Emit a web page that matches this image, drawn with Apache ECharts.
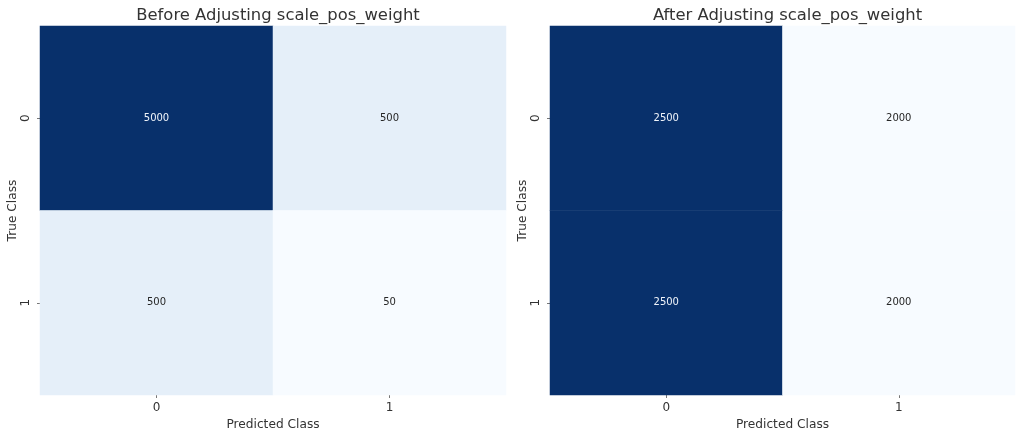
<!DOCTYPE html>
<html><head><meta charset="utf-8">
<script src="https://cdn.jsdelivr.net/npm/echarts@6/dist/echarts.min.js"></script>
<style>html,body{margin:0;padding:0;background:#fff}#c{width:1024px;height:435px}</style>
</head><body><div id="c"></div>
<script>
const predictedClasses = ['0', '1'];
const trueClasses = ['0', '1'];
const titles = ['Before Adjusting scale_pos_weight', 'After Adjusting scale_pos_weight'];
// rows = true class, cols = predicted class
const beforeMatrix = [[5000, 500], [500, 50]];
const afterMatrix = [[2500, 2000], [2500, 2000]];

const matrices = [beforeMatrix, afterMatrix];
const grids = [
  {left: 40, top: 26, width: 466, height: 369, outerBoundsMode: 'none', containLabel: false},
  {left: 550, top: 26, width: 465, height: 369, outerBoundsMode: 'none', containLabel: false}
];
const blues = ['#f7fbff','#deebf7','#c6dbef','#9ecae1','#6baed6','#4292c6','#2171b5','#08519c','#08306b'];
const font = 'DejaVu Sans';

const option = {
  animation: false,
  backgroundColor: '#fff',
  textStyle: {fontFamily: font},
  title: titles.map((t, i) => ({
    text: t, left: grids[i].left + grids[i].width / 2, top: 3, textAlign: 'center',
    textStyle: {fontFamily: font, fontSize: 16.4, fontWeight: 'normal', color: '#333'}
  })),
  grid: grids,
  xAxis: grids.map((g, i) => ({
    type: 'category', gridIndex: i, data: predictedClasses,
    name: 'Predicted Class', nameLocation: 'middle', nameGap: 21,
    nameTextStyle: {fontSize: 12.2, color: '#333', fontFamily: font},
    axisLine: {show: false}, splitLine: {show: false},
    axisTick: {show: true, alignWithLabel: true, length: 3, lineStyle: {color: '#777'}},
    axisLabel: {fontSize: 12, color: '#333', margin: 7, fontFamily: font}
  })),
  yAxis: grids.map((g, i) => ({
    type: 'category', gridIndex: i, data: trueClasses, inverse: true,
    name: 'True Class', nameLocation: 'middle', nameGap: 20, nameRotate: 90,
    nameTextStyle: {fontSize: 12.2, color: '#333', fontFamily: font},
    axisLine: {show: false}, splitLine: {show: false},
    axisTick: {show: true, alignWithLabel: true, length: 3, lineStyle: {color: '#777'}},
    axisLabel: {fontSize: 12, color: '#333', rotate: 90, margin: 8, fontFamily: font}
  })),
  visualMap: matrices.map((m, i) => {
    const vals = m.flat();
    return {
      show: false, seriesIndex: i, min: Math.min(...vals), max: Math.max(...vals),
      inRange: {color: blues}, dimension: 2
    };
  }),
  series: matrices.map((m, i) => {
    const vals = m.flat();
    const mn = Math.min(...vals), mx = Math.max(...vals);
    const data = [];
    m.forEach((row, r) => row.forEach((v, c) => {
      const t = (v - mn) / (mx - mn);
      data.push({value: [c, r, v], label: {color: t > 0.5 ? '#f0f4fa' : '#262626'}});
    }));
    return {
      type: 'heatmap', xAxisIndex: i, yAxisIndex: i, data,
      label: {show: true, fontSize: 10, fontFamily: font, formatter: p => String(p.value[2])},
      itemStyle: {borderWidth: 0},
      emphasis: {disabled: true}
    };
  })
};
echarts.init(document.getElementById('c'), null, {renderer: 'canvas'}).setOption(option);
</script></body></html>
